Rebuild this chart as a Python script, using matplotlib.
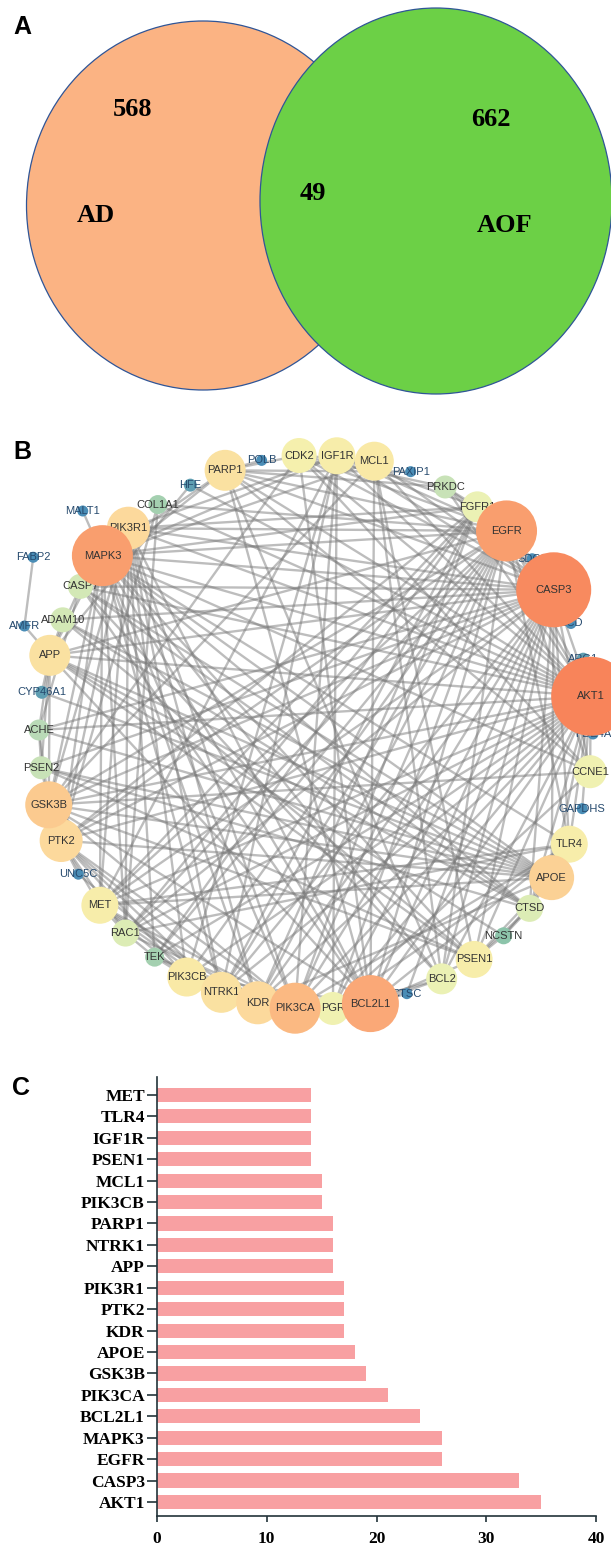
import numpy as np
import matplotlib.pyplot as plt
from matplotlib.patches import Ellipse, Circle
from matplotlib.collections import LineCollection
from matplotlib.colors import LinearSegmentedColormap

# ---- panel A: Venn counts ----
venn_names = ["AD", "AOF"]
venn_counts = [568, 49, 662]   # AD only, shared, AOF only

# ---- panel C: hub genes ranked by degree (bottom to top) ----
hub_genes = ["AKT1", "CASP3", "EGFR", "MAPK3", "BCL2L1", "PIK3CA", "GSK3B",
             "APOE", "KDR", "PTK2", "PIK3R1", "APP", "NTRK1", "PARP1",
             "PIK3CB", "MCL1", "PSEN1", "IGF1R", "TLR4", "MET"]
hub_degree = [35, 33, 26, 26, 24, 21, 19, 18, 17, 17, 17, 16, 16, 16,
              15, 15, 14, 14, 14, 14]

# ---- panel B: remaining targets of the shared network ----
other_genes = ["CDK2", "CCNE1", "PGR", "BCL2", "FGFR1", "CTSD", "RAC1",
               "PRKDC", "ADAM10", "CASP7", "PSEN2", "ACHE", "COL1A1",
               "NCSTN", "TEK", "ARG1", "CYP46A1", "HFE", "SDC3", "SCD",
               "PDE4A", "GAPDHS", "CTSC", "UNC5C", "PAXIP1", "POLB",
               "AMFR", "FABP2", "MALT1"]
other_degree = [13, 12, 12, 11, 11, 9, 9, 7, 8, 8, 7, 6, 5, 4, 5, 2, 2, 2,
                1, 1, 1, 1, 1, 1, 1, 1, 1, 1, 1]

# clockwise order of the circular layout, starting at the top
ring_order = ["CDK2", "IGF1R", "MCL1", "PAXIP1", "PRKDC", "FGFR1", "EGFR",
              "SDC3", "CASP3", "SCD", "ARG1", "AKT1", "PDE4A", "CCNE1",
              "GAPDHS", "TLR4", "APOE", "CTSD", "NCSTN", "PSEN1", "BCL2",
              "CTSC", "BCL2L1", "PGR", "PIK3CA", "KDR", "NTRK1", "PIK3CB",
              "TEK", "RAC1", "MET", "UNC5C", "PTK2", "GSK3B", "PSEN2",
              "ACHE", "CYP46A1", "APP", "ADAM10", "CASP7", "MAPK3",
              "PIK3R1", "COL1A1", "HFE", "PARP1", "POLB"]
# nodes sitting just outside the ring, between two ring neighbours
outside = {"AMFR": ("APP", "ADAM10", 1.12),
           "FABP2": ("CASP7", "CASP7", 1.20),
           "MALT1": ("MAPK3", "PIK3R1", 1.16)}

# interactions
links = {
    "AKT1": "CASP3 EGFR MAPK3 BCL2L1 PIK3CA GSK3B APOE KDR PTK2 PIK3R1 APP NTRK1 "
            "PARP1 PIK3CB MCL1 PSEN1 IGF1R TLR4 MET CDK2 BCL2 CCNE1 PGR FGFR1 RAC1 "
            "CTSD PRKDC CASP7 ACHE COL1A1 TEK PDE4A ARG1 GAPDHS HFE",
    "CASP3": "EGFR MAPK3 BCL2L1 PIK3CA GSK3B APOE KDR PTK2 PIK3R1 APP NTRK1 PARP1 "
             "MCL1 PSEN1 IGF1R TLR4 MET CDK2 BCL2 CCNE1 CASP7 CTSD ACHE PSEN2 ADAM10 "
             "PRKDC RAC1 FGFR1 PGR CTSC SDC3 SCD",
    "EGFR": "MAPK3 BCL2L1 PIK3CA GSK3B KDR PTK2 PIK3R1 NTRK1 PIK3CB IGF1R MET TLR4 "
            "CDK2 CCNE1 FGFR1 RAC1 PGR PRKDC TEK COL1A1 APP BCL2 PARP1 SDC3",
    "MAPK3": "BCL2L1 PIK3CA GSK3B APOE KDR PTK2 PIK3R1 APP NTRK1 PARP1 MCL1 IGF1R "
             "TLR4 MET FGFR1 RAC1 PSEN1 CCNE1 BCL2 MALT1 CTSD",
    "BCL2L1": "PIK3CA MCL1 BCL2 PARP1 GSK3B PIK3R1 APP TLR4 PSEN1 CDK2 KDR NTRK1 "
              "PIK3CB CASP7 CTSC PGR",
    "PIK3CA": "PIK3R1 PIK3CB KDR PTK2 MET IGF1R NTRK1 GSK3B TLR4 FGFR1 RAC1 PGR TEK",
    "GSK3B": "APP PSEN1 APOE PTK2 PIK3R1 MCL1 CDK2 CCNE1 PSEN2 ACHE",
    "APOE": "APP PSEN1 PSEN2 ACHE ADAM10 CTSD CYP46A1 TLR4 NCSTN KDR PTK2 CASP7 MET",
    "KDR": "PTK2 PIK3R1 MET NTRK1 FGFR1 TEK PIK3CB",
    "PTK2": "PIK3R1 MET NTRK1 PIK3CB RAC1 FGFR1 COL1A1 UNC5C",
    "PIK3R1": "MET NTRK1 PIK3CB IGF1R FGFR1 RAC1 TEK",
    "APP": "PSEN1 PSEN2 ADAM10 NCSTN ACHE CTSD CYP46A1 CASP7 HFE AMFR",
    "NTRK1": "PIK3CB IGF1R FGFR1 MET UNC5C",
    "PARP1": "PRKDC CDK2 CCNE1 POLB CASP7 PAXIP1 BCL2",
    "PIK3CB": "IGF1R MET TEK",
    "MCL1": "BCL2 PSEN1 CDK2",
    "PSEN1": "PSEN2 NCSTN ADAM10 CTSD",
    "IGF1R": "MET FGFR1",
    "TLR4": "RAC1 MET",
    "MET": "FGFR1 RAC1",
    "CDK2": "CCNE1 PRKDC",
    "PGR": "BCL2 CCNE1 TLR4 IGF1R",
    "CTSD": "CASP7 NCSTN PSEN2",
    "RAC1": "FGFR1 TEK COL1A1",
    "ACHE": "PSEN2 CASP7",
    "FGFR1": "TEK PRKDC",
    "BCL2": "CASP7",
    "ADAM10": "CTSD",
    "FABP2": "AMFR",
}

degree = dict(zip(hub_genes + other_genes, hub_degree + other_degree))

fig = plt.figure(figsize=(6.11, 15.47), dpi=100)

# one pixel-unit canvas for panels A and B
canvas = fig.add_axes([0, 0, 1, 1])
canvas.set_xlim(0, 611)
canvas.set_ylim(1547, 0)
canvas.axis("off")

serif_bold = dict(family="Liberation Serif", fontweight="bold")
letter = dict(family="Liberation Sans", fontweight="bold", fontsize=18,
              ha="center", va="center")

# ---- A: Venn diagram ----
canvas.add_patch(Ellipse((203, 205.5), 353, 369, facecolor="#fbb383",
                         edgecolor="#2f5597", lw=0.9, zorder=1))
canvas.add_patch(Ellipse((436, 201), 352, 386, facecolor="#6cd046",
                         edgecolor="#2f5597", lw=0.9, zorder=2))
for txt, (x, y) in zip([str(c) for c in venn_counts] + venn_names,
                       [(133, 110), (313, 193), (491, 120), (96, 215), (505, 226)]):
    canvas.text(x, y, txt, fontsize=19, ha="center", va="center", zorder=3,
                **serif_bold)
canvas.text(22, 27, "A", **letter)

# ---- B: PPI network in a circular layout ----
cx, cy, R = 316, 732, 277
step = 360.0 / len(ring_order)
angle = {g: 93.5 - i * step for i, g in enumerate(ring_order)}
radial = {g: 1.0 for g in ring_order}
for g, (a, b, f) in outside.items():
    angle[g] = (angle[a] + angle[b]) / 2
    radial[g] = f
pos = {g: (cx + R * radial[g] * np.cos(np.radians(angle[g])),
           cy - R * radial[g] * np.sin(np.radians(angle[g]))) for g in angle}

pairs = set()
for src, dsts in links.items():
    for d in dsts.split():
        if d != src:
            pairs.add(tuple(sorted((src, d))))
segs = [[pos[a], pos[b]] for a, b in sorted(pairs)]
canvas.add_collection(LineCollection(segs, colors="#767676", linewidths=1.7,
                                     alpha=0.48, zorder=4))

node_cmap = LinearSegmentedColormap.from_list("deg", [
    (0.00, "#4a8db6"), (0.09, "#8fc6aa"), (0.15, "#bddcb8"),
    (0.21, "#d6e9b6"), (0.30, "#ecf2b4"), (0.36, "#f6f0ac"),
    (0.41, "#f9e9a6"), (0.47, "#fcd99c"), (0.53, "#fbca8f"),
    (0.59, "#fbb882"), (0.68, "#faa877"), (0.74, "#f99d6e"),
    (1.00, "#f8845a")])

# small nodes first so that large nodes sit on top
draw_order = sorted(pos, key=lambda n: degree[n])
for k, g in enumerate(draw_order):
    d = degree[g]
    r = 4.5 + 1.0 * d
    x, y = pos[g]
    z = 10 + 2 * k
    canvas.add_patch(Circle((x, y), r, facecolor=node_cmap((d - 1) / 34.0),
                            edgecolor="none", zorder=z))
    canvas.text(x, y, g, fontsize=8, family="Liberation Sans", ha="center",
                va="center", color="#264a6e" if d <= 2 else "#333333",
                zorder=z + 1)
canvas.text(22, 452, "B", **letter)

# ---- C: degree bar chart ----
ax = fig.add_axes([0.2565, 0.02004, 0.7195, 0.2838])
ax.patch.set_alpha(0)
y = np.arange(len(hub_genes))
ax.barh(y, hub_degree, height=0.66, color="#f8a0a2")
ax.set_yticks(y)
ax.set_yticklabels(hub_genes)
ax.set_xlim(0, 40)
ax.set_xticks([0, 10, 20, 30, 40])
ax.set_ylim(-0.654, 19.84)
for s in ["top", "right"]:
    ax.spines[s].set_visible(False)
for s in ["left", "bottom"]:
    ax.spines[s].set_linewidth(1.2)
    ax.spines[s].set_color("#22333a")
ax.tick_params(axis="y", length=7, width=1.2, pad=1.5, color="#22333a")
ax.tick_params(axis="x", length=4.5, width=1.2, pad=6, color="#22333a")
for lab in ax.get_yticklabels() + ax.get_xticklabels():
    lab.set_fontfamily("Liberation Serif")
    lab.set_fontweight("bold")
    lab.set_fontsize(12.5)
canvas.text(21, 1088, "C", **letter)

fig.savefig("out.png", dpi=100)
